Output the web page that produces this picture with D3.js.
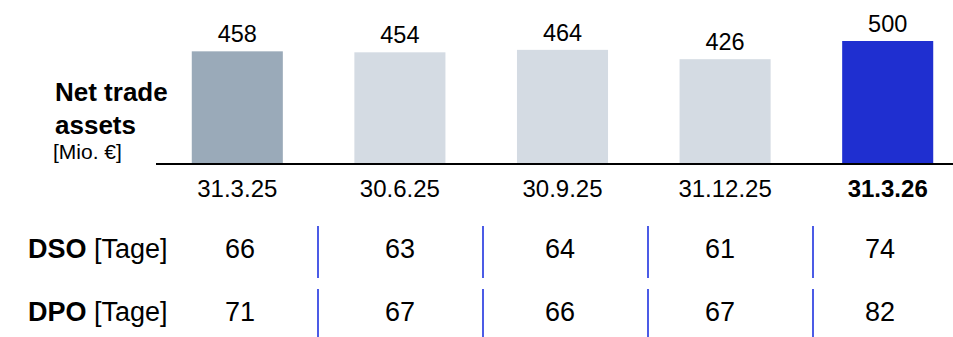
<!DOCTYPE html>
<meta charset="utf-8">
<style>
    body {
        margin: 0;
        background-color: #fff;
    }
    svg text {
        font-family: "Liberation Sans", Arial, sans-serif;
        fill: #000;
    }
    .axis-line {
        stroke: #000;
        stroke-width: 2px;
    }
    .sep {
        stroke: #1f33e0;
        stroke-width: 1.6px;
    }
</style>
<body>
<svg width="953" height="337"></svg>
<script src="https://d3js.org/d3.v7.min.js"></script>
<script>
    // data
    var dates = ["31.3.25", "30.6.25", "30.9.25", "31.12.25", "31.3.26"];
    var netTradeAssets = [458, 454, 464, 426, 500];
    var dso = [66, 63, 64, 61, 74];
    var dpo = [71, 67, 66, 67, 82];
    var barColors = ["#9aaab9", "#d4dbe3", "#d4dbe3", "#d4dbe3", "#1f2fd0"];

    var svg = d3.select("svg"),
        width = +svg.attr("width"),
        baseY = 164;

    var x = d3.scaleBand()
        .domain(dates)
        .range([156, 969])
        .paddingInner(0.44)
        .paddingOuter(0.22);

    var y = d3.scaleLinear()
        .domain([0, 500])
        .range([baseY, 41]);

    // table columns (slightly different spacing than bars, like the slide)
    var tableX = d3.scaleBand().domain(dates).range([160, 960]);
    var sepX = d3.scaleBand().domain(dates).range([153, 978]);

    // bars
    svg.selectAll(".bar")
        .data(netTradeAssets)
        .enter().append("rect")
        .attr("class", "bar")
        .attr("x", function(d, i) { return x(dates[i]); })
        .attr("width", x.bandwidth())
        .attr("y", function(d) { return y(d); })
        .attr("height", function(d) { return baseY - y(d); })
        .style("fill", function(d, i) { return barColors[i]; });

    // value labels
    svg.selectAll(".val")
        .data(netTradeAssets)
        .enter().append("text")
        .attr("class", "val")
        .attr("x", function(d, i) { return x(dates[i]) + x.bandwidth() / 2; })
        .attr("y", function(d) { return y(d) - 9; })
        .attr("text-anchor", "middle")
        .style("font-size", "23.5px")
        .text(function(d) { return d; });

    // baseline
    svg.append("line")
        .attr("class", "axis-line")
        .attr("x1", 156)
        .attr("x2", width)
        .attr("y1", baseY)
        .attr("y2", baseY);

    // x axis labels
    svg.selectAll(".xlab")
        .data(dates)
        .enter().append("text")
        .attr("class", "xlab")
        .attr("x", function(d) { return x(d) + x.bandwidth() / 2; })
        .attr("y", 197)
        .attr("text-anchor", "middle")
        .style("font-size", "24px")
        .style("font-weight", function(d, i) { return i === dates.length - 1 ? "bold" : "normal"; })
        .text(function(d) { return d; });

    // left title
    var title = svg.append("text")
        .style("font-size", "26px")
        .style("font-weight", "bold");
    title.append("tspan").attr("x", 55).attr("y", 101).text("Net trade");
    title.append("tspan").attr("x", 55).attr("y", 134).text("assets");

    svg.append("text")
        .attr("x", 53)
        .attr("y", 159)
        .style("font-size", "21px")
        .text("[Mio. €]");

    // table rows
    var rows = [
        {label: "DSO", values: dso, base: 258, top: 226, bottom: 278},
        {label: "DPO", values: dpo, base: 321, top: 289, bottom: 337}
    ];

    rows.forEach(function(r) {
        var lab = svg.append("text")
            .attr("x", 28)
            .attr("y", r.base)
            .style("font-size", "27px");
        lab.append("tspan").style("font-weight", "bold").text(r.label);
        lab.append("tspan").text(" [Tage]");

        svg.selectAll(null)
            .data(r.values)
            .enter().append("text")
            .attr("x", function(d, i) { return tableX(dates[i]) + tableX.bandwidth() / 2; })
            .attr("y", r.base)
            .attr("text-anchor", "middle")
            .style("font-size", "27px")
            .text(function(d) { return d; });

        svg.selectAll(null)
            .data(dates.slice(1))
            .enter().append("line")
            .attr("class", "sep")
            .attr("x1", function(d) { return sepX(d); })
            .attr("x2", function(d) { return sepX(d); })
            .attr("y1", r.top)
            .attr("y2", r.bottom);
    });
</script>
